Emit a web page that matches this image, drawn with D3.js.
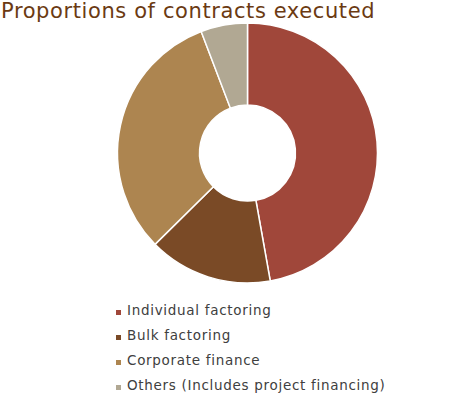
<!DOCTYPE html>
<html>
<head>
<meta charset="utf-8">
<script src="https://cdn.jsdelivr.net/npm/d3@7"></script>
<style>
  body { margin: 0; background: #fff; }
  svg { display: block; font-family: "DejaVu Sans", Verdana, sans-serif; }
</style>
</head>
<body>
<svg></svg>
<script>
// slice values (percent)
var categories = ["Individual factoring", "Bulk factoring", "Corporate finance", "Others (Includes project financing)"];
var shares = [47.2, 15.4, 31.6, 5.8];
var colours = ["#A0473A", "#7A4A26", "#AD8550", "#B1A893"];

var svgWidth = 475;
var svgHeight = 395;
var cx = 247.5, cy = 153;
var outerR = 130, innerR = 48;

var svg = d3.select("svg")
    .attr("width", svgWidth)
    .attr("height", svgHeight);

svg.append("text")
    .attr("x", 1)
    .attr("y", 18)
    .attr("fill", "#6B3A12")
    .style("font-size", "21px")
    .style("letter-spacing", "0.6px")
    .text("Proportions of contracts executed");

var pie = d3.pie().sort(null).value(function(d) { return d; });
var arc = d3.arc().innerRadius(innerR).outerRadius(outerR);

var colour = d3.scaleOrdinal().domain(categories).range(colours);

svg.append("g")
    .attr("transform", "translate(" + cx + "," + cy + ")")
    .selectAll("path")
    .data(pie(shares))
    .enter()
    .append("path")
    .attr("d", arc)
    .attr("fill", function(d, i) { return colour(categories[i]); })
    .attr("stroke", "#fff")
    .attr("stroke-width", 1.5);

// legend, y is the text baseline
var legendY = d3.scalePoint().domain(categories).range([315, 390]);

var legend = svg.append("g")
    .selectAll("g")
    .data(categories)
    .enter()
    .append("g")
    .attr("transform", function(d) { return "translate(116," + legendY(d) + ")"; });

legend.append("rect")
    .attr("x", 0)
    .attr("y", -5)
    .attr("width", 5)
    .attr("height", 5)
    .attr("fill", function(d) { return colour(d); });

legend.append("text")
    .attr("x", 11)
    .attr("y", 0)
    .attr("fill", "#404040")
    .style("font-size", "13.5px")
    .style("letter-spacing", "0.7px")
    .text(function(d) { return d; });
</script>
</body>
</html>
